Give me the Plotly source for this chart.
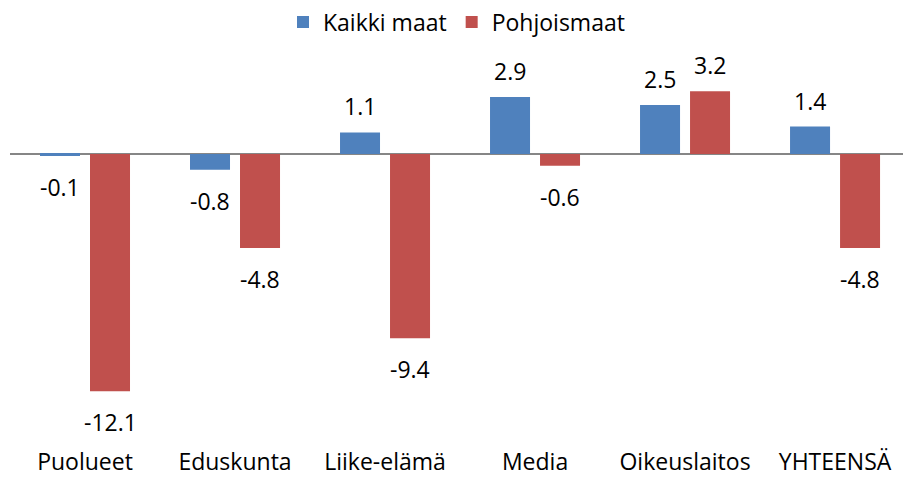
import plotly.graph_objects as go

categories = ["Puolueet", "Eduskunta", "Liike-elämä", "Media", "Oikeuslaitos", "YHTEENSÄ"]
kaikki_maat = [-0.1, -0.8, 1.1, 2.9, 2.5, 1.4]
pohjoismaat = [-12.1, -4.8, -9.4, -0.6, 3.2, -4.8]
series_names = ["Kaikki maat", "Pohjoismaat"]
colors = ["#4F81BD", "#C0504D"]

FONT = "Open Sans"
FS = 23

fig = go.Figure()
for name, vals, col in zip(series_names, [kaikki_maat, pohjoismaat], colors):
    fig.add_trace(go.Bar(x=categories, y=vals, name=name, marker_color=col,
                         marker_line_width=0))

annotations = []
for vals, xs in zip([kaikki_maat, pohjoismaat], [-25, 25]):
    for c, v in zip(categories, vals):
        annotations.append(dict(
            x=c, y=v, xref="x", yref="y", text=f"{v:.1f}", showarrow=False,
            xshift=xs, yshift=26 if v >= 0 else -31, yanchor="middle",
            font=dict(family=FONT, size=FS, color="#000000")))

fig.update_layout(
    width=903, height=479,
    margin=dict(l=10, r=0, t=33, b=36, autoexpand=False),
    paper_bgcolor="white", plot_bgcolor="white",
    barmode="group", bargap=0.3333, bargroupgap=0.2,
    font=dict(family=FONT, size=FS, color="#000000"),
    legend=dict(orientation="h", x=0.5, xanchor="center", y=1.0268,
                yanchor="middle", font=dict(family=FONT, size=FS),
                itemwidth=30, tracegroupgap=0),
    annotations=annotations,
    showlegend=True,
)
fig.update_xaxes(range=[-0.5, 5.453], showline=False, ticks="", showgrid=False,
                 tickfont=dict(family=FONT, size=FS), fixedrange=True,
                 ticklabelstandoff=3, automargin=False)
fig.update_yaxes(range=[-14.74, 6.17], showticklabels=False, showgrid=False,
                 zeroline=True, zerolinecolor="#868686", zerolinewidth=1.5,
                 showline=False, ticks="", automargin=False)

fig.write_html("out.html", config={"displayModeBar": False},
               post_script="document.body.style.margin='0';document.body.style.overflow='hidden';")
